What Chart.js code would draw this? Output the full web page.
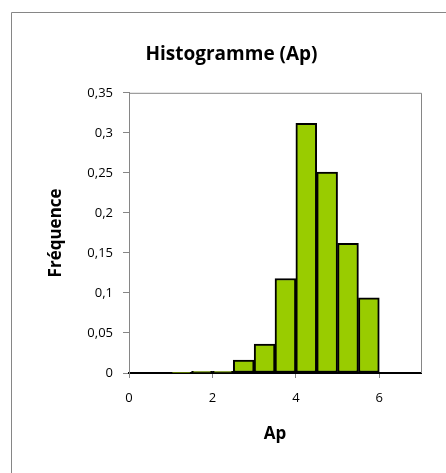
<!DOCTYPE html>
<html>
<head>
<meta charset="utf-8">
<script src="https://cdn.jsdelivr.net/npm/chart.js@4"></script>
<style>
  html, body { margin: 0; padding: 0; background: #fff; }
  #wrap { width: 446px; height: 473px; }
</style>
</head>
<body>
<div id="wrap"><canvas id="canvas" width="446" height="473"></canvas></div>
<script>
// bin centres (width 0.5) and frequencies
const binCenters = [0.25, 0.75, 1.25, 1.75, 2.25, 2.75, 3.25, 3.75, 4.25, 4.75, 5.25, 5.75, 6.25, 6.75];
const frequencies = [0, 0, 0.0005, 0.002, 0.002, 0.016, 0.036, 0.118, 0.312, 0.251, 0.162, 0.094, 0, 0];
const xTicks = [0, 2, 4, 6];
const yTicks = [0, 0.05, 0.1, 0.15, 0.2, 0.25, 0.3, 0.35];

const frame = {
  id: "frame",
  afterDraw(chart) {
    const ctx = chart.ctx;
    const a = chart.chartArea;
    ctx.save();
    ctx.strokeStyle = "#868686";
    ctx.lineWidth = 1;
    // plot area top and right edges
    ctx.beginPath();
    ctx.moveTo(a.left, a.top + 0.5);
    ctx.lineTo(a.right + 0.5, a.top + 0.5);
    ctx.lineTo(a.right + 0.5, a.bottom);
    ctx.stroke();
    // outer chart border
    ctx.beginPath();
    ctx.moveTo(11.5, chart.height);
    ctx.lineTo(11.5, 12.5);
    ctx.lineTo(chart.width, 12.5);
    ctx.stroke();
    ctx.restore();
  },
};

const data = {
  datasets: [
    {
      label: "Fréquence",
      data: binCenters.map((x, i) => ({ x: x, y: frequencies[i] })),
      backgroundColor: "#99cc00",
      borderColor: "#000000",
      borderWidth: 2,
      borderSkipped: false,
      barPercentage: 1,
      categoryPercentage: 1,
    },
  ],
};

const fmt = (v) => String(v).replace(".", ",");

const config = {
  type: "bar",
  data: data,
  plugins: [frame],
  options: {
    responsive: false,
    animation: false,
    layout: { padding: { left: 42, right: 25, top: 12, bottom: 25 } },
    plugins: {
      legend: { display: false },
      tooltip: { enabled: false },
      title: {
        display: true,
        text: "Histogramme (Ap)",
        color: "#000",
        font: { family: "Open Sans", size: 19, weight: "bold" },
        padding: { top: 31, bottom: 27 },
      },
    },
    scales: {
      x: {
        type: "linear",
        min: 0,
        max: 7,
        offset: false,
        afterBuildTicks: (s) => { s.ticks = xTicks.map((v) => ({ value: v })); },
        afterFit: (s) => { s.height = 75; },
        grid: { offset: false, drawOnChartArea: false, drawTicks: true, tickLength: 5, color: "#868686" },
        border: { color: "#000", width: 2 },
        ticks: { color: "#000", font: { family: "Open Sans", size: 13 }, padding: 12, maxRotation: 0 },
        title: { display: true, text: "Ap", color: "#000", font: { family: "Open Sans", size: 17, weight: "bold" }, padding: { top: 1 } },
      },
      y: {
        min: 0,
        max: 0.35,
        afterBuildTicks: (s) => { s.ticks = yTicks.map((v) => ({ value: v })); },
        afterFit: (s) => { s.width = 87; },
        grid: { drawOnChartArea: false, drawTicks: true, tickLength: 6, color: "#868686" },
        border: { color: "#868686", width: 1 },
        ticks: { color: "#000", font: { family: "Open Sans", size: 13 }, padding: 10, callback: (v) => fmt(v) },
        title: { display: true, text: "Fréquence", color: "#000", font: { family: "Open Sans", size: 17, weight: "bold" }, padding: { bottom: 10 } },
      },
    },
  },
};

const canvas = document.getElementById("canvas");
const chart = new Chart(canvas, config);
</script>
</body>
</html>
